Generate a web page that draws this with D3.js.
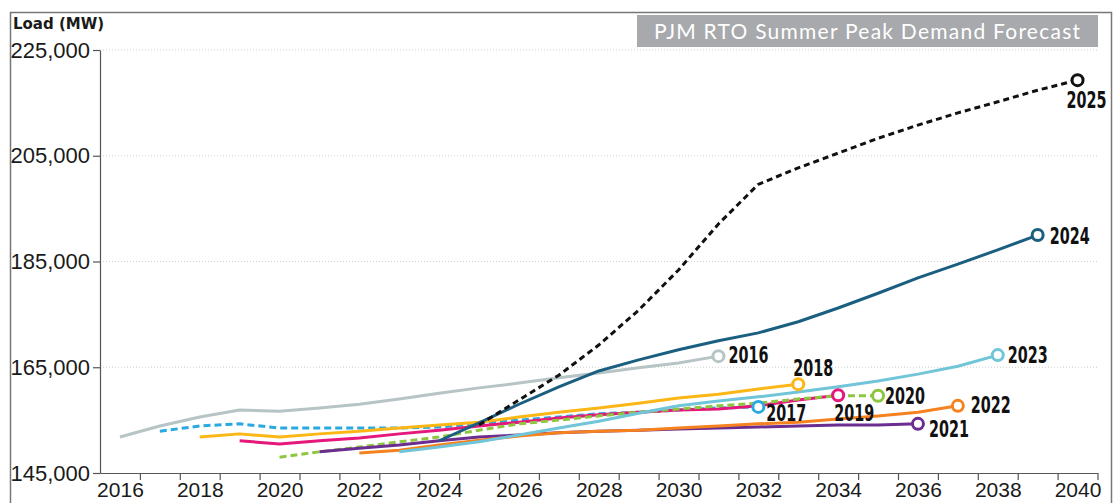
<!DOCTYPE html>
<html>
<head>
<meta charset="utf-8">
<script src="https://cdn.jsdelivr.net/npm/d3@7"></script>
<style>
  body { margin: 0; background: #fff; }
  svg { display: block; }
</style>
</head>
<body>
<div id="chart-area"></div>
<script>
// categories
var years = [2016, 2017, 2018, 2019, 2020, 2021, 2022, 2023, 2024, 2025, 2026, 2027, 2028,
  2029, 2030, 2031, 2032, 2033, 2034, 2035, 2036, 2037, 2038, 2039, 2040];
var labelYears = [2016, 2018, 2020, 2022, 2024, 2026, 2028, 2030, 2032, 2034, 2036, 2038, 2040];
var yTicks = [145000, 165000, 185000, 205000, 225000];
var vintages = [2016, 2017, 2018, 2019, 2020, 2021, 2022, 2023, 2024, 2025];

// each forecast starts in its own vintage year (MW)
var load2016 = [151800, 153900, 155600, 156900, 156700, 157300, 158000, 159000, 160100, 161100, 162000, 163000, 163900, 164900, 165800, 167100];
var load2017 = [152900, 153900, 154300, 153500, 153500, 153500, 153500, 153700, 154300, 155000, 155600, 156200, 156500, 156900, 157300, 157500];
var load2018 = [151800, 152400, 151800, 152400, 152900, 153500, 154100, 154600, 155600, 156500, 157300, 158200, 159200, 159900, 160900, 161800];
var load2019 = [151100, 150500, 151100, 151600, 152400, 153100, 153900, 154600, 155400, 156000, 156500, 156900, 157100, 157700, 158800, 159700];
var load2020 = [148000, 149000, 149900, 150900, 151800, 153100, 154300, 155000, 155800, 156500, 157100, 157700, 158200, 159000, 159600, 159600];
var load2021 = [149000, 149700, 150300, 151100, 151800, 152200, 152600, 152900, 153100, 153300, 153500, 153700, 153900, 154100, 154100, 154300];
var load2022 = [148800, 149300, 150300, 151200, 152000, 152600, 152900, 153100, 153500, 153900, 154300, 154600, 155200, 155800, 156500, 157700];
var load2023 = [149000, 149900, 150900, 152200, 153500, 154800, 156300, 157700, 158600, 159400, 160300, 161300, 162400, 163700, 165200, 167300];
var load2024 = [151100, 154500, 158000, 161300, 164300, 166400, 168300, 170000, 171500, 173600, 176200, 179000, 181900, 184500, 187200, 190000];
var load2025 = [154100, 158800, 163500, 169200, 175800, 183400, 192100, 199600, 202700, 205500, 208300, 210800, 213100, 215200, 217400, 219300];

var loads = [load2016, load2017, load2018, load2019, load2020, load2021, load2022, load2023, load2024, load2025];

var colors = ["#b7c4c5", "#2aa9e1", "#fcb616", "#e5187c", "#8dc63f", "#6c2d91", "#f5821f", "#70c5d8", "#1b5f80", "#111111"];
var dashes = [null, "7,4", null, null, "7,4", null, null, null, null, "6,4"];

// end label offsets from the last marker
var labelDx = [10, 8, -5, -4, 7, 11, 13, 10, 12, -11];
var labelDy = [7, 14, -8, 26, 8, 13, 7, 8, 9, 28];

var W = 1114, H = 503;

var svg = d3.select("#chart-area")
  .append("svg")
  .attr("width", W)
  .attr("height", H);

var x = d3.scaleLinear()
  .domain([2015.5, 2040.5])
  .range([100, 1097.5]);

var y = d3.scaleLinear()
  .domain([145000, 225000])
  .range([473, 50]);

// outer frame
svg.append("rect")
  .attr("x", 10.5)
  .attr("y", 12.5)
  .attr("width", 1101)
  .attr("height", 520)
  .attr("fill", "none")
  .attr("stroke", "#777")
  .attr("stroke-width", 1.5);

// gridlines
svg.selectAll(".grid")
  .data(yTicks.slice(1))
  .enter()
  .append("line")
  .attr("class", "grid")
  .attr("x1", 100)
  .attr("x2", 1097)
  .attr("y1", d => y(d))
  .attr("y2", d => y(d))
  .attr("stroke", "#cfcfcf")
  .attr("stroke-dasharray", "1,2");

// Y axis
var yAxis = svg.append("g")
  .attr("transform", "translate(100,0)")
  .call(d3.axisLeft(y)
    .tickValues(yTicks)
    .tickSize(7)
    .tickSizeOuter(0)
    .tickPadding(3)
    .tickFormat(d3.format(",")));
yAxis.attr("font-size", 22).attr("font-family", "'Liberation Sans', Arial, sans-serif");
yAxis.selectAll("path, line").attr("stroke", "#555").attr("stroke-width", 1.2);
yAxis.selectAll("text").attr("fill", "#1a1a1a");

// X axis tick marks sit between years
var xTicks = svg.append("g")
  .attr("transform", "translate(0,473)")
  .call(d3.axisBottom(x)
    .tickValues(years.map(d => d + 0.5))
    .tickSize(7)
    .tickSizeOuter(0)
    .tickFormat(""));
xTicks.selectAll("path, line").attr("stroke", "#555").attr("stroke-width", 1.2);

var xLabels = svg.append("g")
  .attr("transform", "translate(0,473)")
  .call(d3.axisBottom(x)
    .tickValues(labelYears)
    .tickSize(0)
    .tickPadding(9)
    .tickFormat(d3.format("d")));
xLabels.select(".domain").remove();
xLabels.attr("font-size", 21).attr("font-family", "'Liberation Sans', Arial, sans-serif");
xLabels.selectAll("text").attr("fill", "#1a1a1a");

// Y label
svg.append("text")
  .attr("x", 13)
  .attr("y", 29)
  .attr("font-family", "'DejaVu Sans', sans-serif")
  .attr("font-weight", "bold")
  .attr("font-size", 15)
  .attr("fill", "#1a1a1a")
  .text("Load (MW)");

// title box
svg.append("rect")
  .attr("x", 637)
  .attr("y", 15)
  .attr("width", 461)
  .attr("height", 32)
  .attr("fill", "#a7a9ac");

svg.append("text")
  .attr("x", 867)
  .attr("y", 39)
  .attr("text-anchor", "middle")
  .attr("font-family", "Lato, 'Open Sans', sans-serif")
  .attr("font-size", 21)
  .attr("fill", "#fff")
  .attr("textLength", 426)
  .attr("lengthAdjust", "spacing")
  .text("PJM RTO Summer Peak Demand Forecast");

var line = d3.line()
  .x(d => x(d.year))
  .y(d => y(d.load));

var series = vintages.map(function(v, i) {
  return {
    vintage: v,
    color: colors[i],
    dash: dashes[i],
    dx: labelDx[i],
    dy: labelDy[i],
    values: loads[i].map((load, j) => ({ year: v + j, load: load }))
  };
});

function last(d) {
  return d.values[d.values.length - 1];
}

// lines first, then the end markers and labels on top
svg.selectAll(".forecast")
  .data(series)
  .enter()
  .append("path")
  .attr("class", "forecast")
  .attr("d", d => line(d.values))
  .attr("fill", "none")
  .attr("stroke", d => d.color)
  .attr("stroke-width", 3)
  .attr("stroke-dasharray", d => d.dash)
  .attr("stroke-linejoin", "round");

svg.selectAll(".marker")
  .data(series)
  .enter()
  .append("circle")
  .attr("class", "marker")
  .attr("cx", d => x(last(d).year))
  .attr("cy", d => y(last(d).load))
  .attr("r", 5.5)
  .attr("fill", "#fff")
  .attr("stroke", d => d.color)
  .attr("stroke-width", 3);

svg.selectAll(".end-label")
  .data(series)
  .enter()
  .append("text")
  .attr("class", "end-label")
  .attr("x", d => x(last(d).year) + d.dx)
  .attr("y", d => y(last(d).load) + d.dy)
  .attr("font-family", "'Liberation Sans Narrow', 'DejaVu Sans Condensed', 'Roboto Condensed', sans-serif")
  .attr("font-weight", "bold")
  .attr("font-size", 23)
  .attr("textLength", 40)
  .attr("lengthAdjust", "spacingAndGlyphs")
  .attr("fill", "#111")
  .text(d => d.vintage);
</script>
</body>
</html>
